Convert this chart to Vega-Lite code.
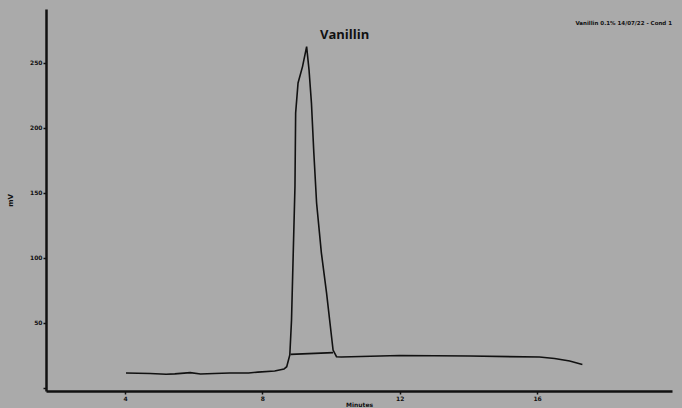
{
  "$schema": "https://vega.github.io/schema/vega-lite/v6.json",
  "width": 626,
  "height": 382,
  "autosize": {"type": "none"},
  "padding": {"left": 46, "top": 9, "right": 10, "bottom": 17},
  "background": "#aaaaaa",
  "title": {
    "text": "Vanillin 0.1% 14/07/22 - Cond 1",
    "anchor": "end",
    "orient": "top",
    "offset": -17,
    "fontSize": 5.5,
    "fontWeight": "bold",
    "font": "DejaVu Sans",
    "color": "#111111"
  },
  "config": {
    "view": {"stroke": null},
    "axis": {
      "grid": false,
      "domainColor": "#111111",
      "domainWidth": 2.5,
      "tickColor": "#111111",
      "tickWidth": 1.5,
      "tickSize": 3,
      "labelColor": "#111111",
      "labelFont": "DejaVu Sans",
      "labelFontSize": 6,
      "labelFontWeight": "bold",
      "titleColor": "#111111",
      "titleFont": "DejaVu Sans",
      "titleFontWeight": "bold",
      "titleFontSize": 7
    }
  },
  "data": {
    "values": [
      {"series": "trace", "min": 4.03, "mv": 11.5},
      {"series": "trace", "min": 4.73, "mv": 11.2},
      {"series": "trace", "min": 5.2, "mv": 10.6},
      {"series": "trace", "min": 5.45, "mv": 10.9},
      {"series": "trace", "min": 5.9, "mv": 11.8},
      {"series": "trace", "min": 6.2, "mv": 10.8},
      {"series": "trace", "min": 6.6, "mv": 11.2},
      {"series": "trace", "min": 7.05, "mv": 11.5},
      {"series": "trace", "min": 7.6, "mv": 11.6},
      {"series": "trace", "min": 7.87, "mv": 12.2},
      {"series": "trace", "min": 8.36, "mv": 13.1},
      {"series": "trace", "min": 8.63, "mv": 14.6},
      {"series": "trace", "min": 8.71, "mv": 16.4},
      {"series": "trace", "min": 8.8, "mv": 25.4},
      {"series": "trace", "min": 8.85, "mv": 52.3},
      {"series": "trace", "min": 8.9, "mv": 103.8},
      {"series": "trace", "min": 8.95, "mv": 154.8},
      {"series": "trace", "min": 8.97, "mv": 211.5},
      {"series": "trace", "min": 9.04, "mv": 234.6},
      {"series": "trace", "min": 9.17, "mv": 247.2},
      {"series": "trace", "min": 9.29, "mv": 262.5},
      {"series": "trace", "min": 9.36, "mv": 244.6},
      {"series": "trace", "min": 9.43, "mv": 219.2},
      {"series": "trace", "min": 9.5, "mv": 180.8},
      {"series": "trace", "min": 9.58, "mv": 142.3},
      {"series": "trace", "min": 9.72, "mv": 103.8},
      {"series": "trace", "min": 9.87, "mv": 73.1},
      {"series": "trace", "min": 9.96, "mv": 52.3},
      {"series": "trace", "min": 10.06, "mv": 29.2},
      {"series": "trace", "min": 10.16, "mv": 24.1},
      {"series": "trace", "min": 10.3, "mv": 23.8},
      {"series": "trace", "min": 12.0, "mv": 25.0},
      {"series": "trace", "min": 14.04, "mv": 24.6},
      {"series": "trace", "min": 16.07, "mv": 23.8},
      {"series": "trace", "min": 16.51, "mv": 22.7},
      {"series": "trace", "min": 16.95, "mv": 20.8},
      {"series": "trace", "min": 17.32, "mv": 18.1},
      {"series": "base", "min": 8.82, "mv": 25.9},
      {"series": "base", "min": 10.06, "mv": 27.2}
    ]
  },
  "layer": [
    {
      "mark": {"type": "line", "color": "#111111", "strokeWidth": 1.6},
      "encoding": {
        "x": {
          "field": "min", "type": "quantitative",
          "scale": {"domain": [1.7, 19.93], "nice": false, "zero": false},
          "axis": {"values": [4, 8, 12, 16], "title": "Minutes", "titlePadding": 0, "labelPadding": 1, "titleFontSize": 6}
        },
        "y": {
          "field": "mv", "type": "quantitative",
          "scale": {"domain": [-2.3, 291.5], "nice": false, "zero": false},
          "axis": {"values": [0, 50, 100, 150, 200, 250], "labelExpr": "datum.value == 0 ? '' : datum.label", "title": "mV", "titlePadding": 16, "labelPadding": 1}
        },
        "detail": {"field": "series"}
      }
    },
    {
      "transform": [{"filter": "datum.mv > 260"}],
      "mark": {"type": "text", "text": "Vanillin", "font": "Open Sans", "fontWeight": "bold", "fontSize": 13, "color": "#111111", "dx": 38, "dy": -12},
      "encoding": {
        "x": {"field": "min", "type": "quantitative"},
        "y": {"field": "mv", "type": "quantitative"}
      }
    }
  ]
}
